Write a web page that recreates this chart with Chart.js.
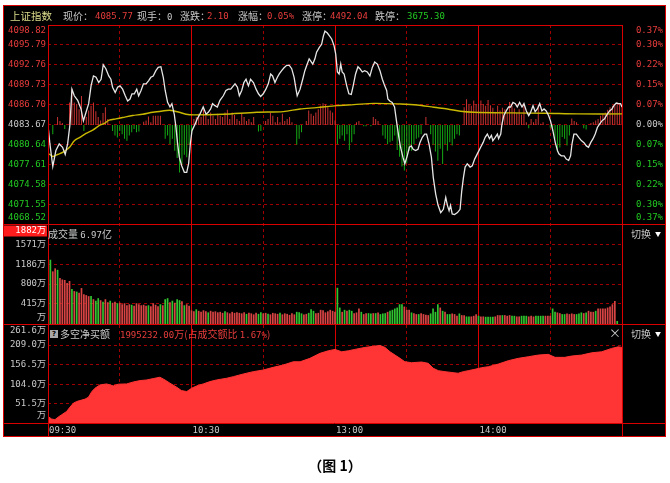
<!DOCTYPE html>
<html>
<head>
<meta charset="utf-8">
<title>上证指数 分时</title>
<script src="https://cdn.jsdelivr.net/npm/chart.js@4.4.1/dist/chart.umd.min.js"></script>
<style>
  html, body { margin: 0; padding: 0; background: #fff; }
  #wrap { position: relative; width: 670px; height: 483px; overflow: hidden; }
  #board { position: absolute; left: 3px; top: 5px; width: 663px; height: 432px; background: #000; }
  #c { position: absolute; left: 0; top: 0; }
  .t { position: absolute; white-space: nowrap; font: 10px/12px "Noto Sans CJK SC", sans-serif; color: #c8c8c8; }
  .n { font-family: "DejaVu Sans Mono", "Noto Sans CJK SC", monospace; font-size: 9px; }
  .red { color: #e83c3c; }
  .grn { color: #22c822; }
  .tri { font-size: 6px; color: #fff; vertical-align: 2px; margin-left: 4px; }
  #q { position: absolute; left: 50px; top: 330px; width: 8px; height: 8px; background: #a8a8a8; color: #000;
       font: bold 7px/8px "DejaVu Sans", sans-serif; text-align: center; }
  #cap { position: absolute; left: 0; width: 670px; top: 456px; text-align: center;
         font: bold 14px/18px "Noto Sans CJK SC", sans-serif; color: #000; }
</style>
</head>
<body>
<div id="wrap">
  <div id="board"></div>
  <canvas id="c" width="670" height="483"></canvas>

  <span class="t" style="left:10px;top:10px;color:#dcdc8c;font-size:10.5px">上证指数</span>
  <span class="t" style="left:63px;top:10px">现价：</span>
  <span class="t n red" style="left:95px;top:10px">4085.77</span>
  <span class="t" style="left:137px;top:10px">现手：<span class="n">0</span></span>
  <span class="t" style="left:180px;top:10px">涨跌：</span>
  <span class="t n red" style="left:207px;top:10px">2.10</span>
  <span class="t" style="left:238px;top:10px">涨幅：</span>
  <span class="t n red" style="left:267px;top:10px">0.05%</span>
  <span class="t" style="left:302px;top:10px">涨停：</span>
  <span class="t n red" style="left:330px;top:10px">4492.04</span>
  <span class="t" style="left:375px;top:10px">跌停：</span>
  <span class="t n grn" style="left:407px;top:10px">3675.30</span>

  <span class="t" style="left:48px;top:228px">成交量 <span class="n">6.97</span>亿</span>
  <span class="t" style="left:631px;top:228px">切换<span class="tri">▼</span></span>

  <span id="q">?</span>
  <span class="t" style="left:60px;top:328px">多空净买额</span>
  <span class="t red" style="left:120px;top:328px"><span class="n">1995232.00</span>万(占成交额比 <span class="n">1.67%</span>)</span>
  <span class="t" style="left:609px;top:327px;font-size:12px">×</span>
  <span class="t" style="left:631px;top:328px">切换<span class="tri">▼</span></span>

  <div id="cap">（图 1）</div>
</div>

<script>
// ---- data ----
const prevClose = 4083.67;
const priceTicks = [4098.82, 4095.79, 4092.76, 4089.73, 4086.70, 4083.67, 4080.64, 4077.61, 4074.58, 4071.55, 4068.52];
const pctLabels = ["0.37%", "0.30%", "0.22%", "0.15%", "0.07%", "0.00%", "0.07%", "0.15%", "0.22%", "0.30%", "0.37%"];
const volTicks = [1882, 1571, 1186, 800, 415, 0];
const volLabels = ["1882万", "1571万", "1186万", "800万", "415万", "万"];
const netTicks = [261.6, 209.0, 156.5, 104.0, 51.5, 0];
const netLabels = ["261.6万", "209.0万", "156.5万", "104.0万", "51.5万", "万"];
const timeTicks = [0, 60, 120, 180];
const timeLabels = ["09:30", "10:30", "13:00", "14:00"];
const gridMinutes = [30, 60, 90, 120, 150, 180, 210];

// [minute, price]
const pricePts = [
  [0,4083.57],[0.8,4080.8],[2,4077.4],[3.3,4079.8],[4.7,4080.8],[6.1,4080.3],[7.2,4079.2],[8.2,4080.8],[9.2,4083.8],[10,4089.1],
  [11,4088.1],[12.4,4087.4],[13.8,4086.1],[14.8,4084.3],[15.9,4085.6],[17,4086.9],[18,4089.6],[19,4091.1],[20.1,4090.9],[21.2,4090.1],
  [22.2,4090.6],[23.1,4092.8],[24.2,4092.2],[25.4,4091.1],[26.3,4090.6],[27,4089.4],[28.1,4088.6],[29.1,4089.4],[30.1,4089.6],[31.2,4089.1],
  [32.3,4088.1],[33.3,4087.3],[34.3,4087.6],[35.1,4088.4],[36.1,4088.4],[37.1,4089.1],[37.9,4088.1],[38.9,4088.9],[39.9,4089.9],[41,4089.9],
  [42.1,4090.4],[43,4090.9],[44,4091.1],[45.1,4091.9],[46.1,4092.4],[47.2,4092.5],[48.2,4090.9],[49,4088.9],[50,4087.1],[51,4086.4],
  [51.8,4086.9],[52.8,4085.3],[53.5,4083.3],[54.2,4080.8],[54.9,4078.8],[55.9,4077.5],[57,4076.5],[58,4076.5],[58.8,4077.8],[59.5,4080.8],
  [60.2,4082.8],[61.5,4083.8],[62.4,4084.6],[63.5,4085.3],[64.9,4086.4],[66.1,4085.3],[67,4085.6],[68,4086.1],[68.8,4086.9],[69.8,4086.6],
  [70.8,4086.4],[71.9,4087.4],[73.3,4088.1],[74.4,4088.9],[75.4,4089.1],[76.4,4089.1],[77.5,4089.6],[78.2,4089.9],[79.2,4089.4],[80,4088.1],
  [81,4088.9],[81.9,4090.1],[82.8,4090.6],[83.8,4089.6],[84.7,4090.6],[85.9,4090.1],[87,4089.1],[88,4088.4],[88.9,4088.0],[90,4088.4],
  [91.1,4089.1],[92.1,4089.9],[93.1,4091.4],[93.9,4091.1],[94.9,4090.1],[95.9,4090.9],[96.7,4091.4],[97.7,4091.9],[98.6,4092.3],[99.8,4092.7],
  [100.9,4092.7],[101.9,4092.2],[102.9,4090.9],[103.7,4089.1],[104.2,4088.1],[105.4,4089.1],[106.5,4090.6],[107.4,4091.9],[108.4,4092.9],[109.2,4093.7],
  [109.8,4093.4],[110.7,4092.9],[111.6,4093.7],[112.3,4094.7],[113.4,4095.4],[114.4,4095.9],[115.1,4097.1],[115.8,4097.9],[116.8,4097.6],[117.6,4097.2],
  [118.6,4096.7],[119.6,4095.7],[120.3,4094.4],[121,4091.7],[121.7,4091.4],[122.4,4092.9],[123,4091.7],[123.8,4091.4],[124.9,4089.6],[125.8,4088.4],
  [126.8,4088.3],[127.6,4089.6],[128.6,4091.4],[129.6,4092.5],[130.4,4092.2],[131.4,4091.7],[132.4,4091.9],[133.5,4091.7],[134.6,4091.1],[135.6,4092.4],
  [136.6,4093.2],[137.7,4092.9],[138.8,4091.9],[139.8,4090.6],[140.8,4089.6],[141.6,4088.9],[142.1,4087.6],[142.9,4087.3],[143.9,4087.1],[144.9,4086.4],
  [145.7,4084.3],[146.7,4081.8],[147.4,4080.3],[148.4,4078.8],[149.2,4077.8],[150.2,4079.0],[151.1,4080.3],[151.9,4080.5],[152.7,4080.0],[153.7,4079.8],
  [154.7,4080.0],[155.5,4081.0],[156.5,4081.8],[157.5,4082.3],[158.3,4082.3],[159.3,4080.8],[160.3,4078.8],[161.1,4075.7],[162.1,4073.2],[163.1,4071.5],
  [164.2,4070.4],[165.3,4070.9],[166.3,4072.7],[167,4071.5],[167.7,4070.7],[168.3,4071.5],[169,4070.2],[170,4070.1],[171.2,4070.4],[172.3,4070.9],
  [173,4073.7],[173.7,4075.7],[174.4,4077.3],[175.3,4077.8],[176.5,4077.3],[177.4,4077.5],[178.4,4078.5],[179.5,4079.3],[180.9,4080.3],[181.9,4081.0],
  [182.8,4081.8],[183.7,4082.3],[184.6,4081.6],[185.4,4082.1],[186,4081.3],[187,4081.8],[187.9,4082.3],[188.4,4081.6],[189.3,4082.3],[189.8,4083.8],
  [190.6,4085.1],[191.6,4085.8],[192.6,4086.4],[193.4,4086.4],[194.4,4087.1],[195.4,4086.9],[196.2,4086.4],[197.2,4087.1],[198.2,4086.4],[199,4086.9],
  [200,4085.8],[201,4085.1],[201.8,4085.6],[202.8,4086.6],[203.7,4085.7],[204.6,4086.1],[205.6,4086.9],[206.5,4085.8],[207.4,4086.1],[208.3,4085.8],
  [209.3,4085.1],[210.1,4084.3],[211.1,4082.8],[212.1,4081.0],[213,4079.8],[213.6,4079.3],[214.6,4079.0],[215.8,4079.0],[216.7,4078.5],[217.7,4078.3],
  [218.5,4079.0],[219.1,4080.8],[219.9,4082.3],[220.9,4082.3],[221.9,4081.8],[223,4081.3],[224.1,4081.0],[225.1,4080.5],[226,4080.3],[226.9,4081.0],
  [227.9,4081.6],[228.8,4082.3],[229.7,4083.3],[230.6,4083.8],[231.6,4084.3],[232.7,4084.6],[233.8,4085.3],[234.8,4085.8],[235.8,4086.1],[236.6,4086.6],
  [237.6,4087.0],[238.6,4086.9],[239.4,4086.9],[240,4086.4]
];

// [minute, average price]
const avgPts = [
  [0.5,4079.3],[2,4078.9],[4,4079.2],[6.5,4079.6],[9,4080.3],[11,4081.3],[13.3,4081.8],[15.9,4082.4],[18.7,4082.9],[21.5,4083.6],
  [23.5,4083.9],[25.6,4084.4],[28.4,4084.6],[31.2,4084.8],[35.4,4085.1],[39.6,4085.3],[43.8,4085.6],[47.9,4085.8],[50.7,4085.9],[52.8,4085.8],
  [54.9,4085.6],[57.7,4085.3],[61,4085.2],[73.3,4085.3],[87.3,4085.6],[98.4,4085.7],[105.4,4086.1],[112.3,4086.3],[120.7,4086.6],[127.9,4086.75],
  [136.3,4086.95],[147.4,4086.85],[154.4,4086.7],[161.4,4086.35],[167,4086.1],[172.5,4085.75],[178.1,4085.6],[193.7,4085.5],[207.7,4085.45],[221.6,4085.35],
  [240,4085.35]
];

// red/green strength bars, one per minute (index points above/below prev close)
const strength = [
  0,0,-1.4,0,1.2,0.6,0.3,-0.6,0,3.4,
  5.5,3.4,3.2,2.4,4.4,-0.9,1.2,2.2,2.9,3.4,
  2.1,1.2,0.7,1.8,2.7,0.9,0,-0.9,-1.6,-1.9,
  -0.9,-1.4,-2.1,-2.4,-1.6,-1.1,-0.6,-1.1,-1.0,0,
  0.5,0.7,1.3,0.4,1.4,1.4,1.4,1.4,0,-2.1,
  -1.6,-2.9,-2.1,-3.9,-5.0,-7.2,-6.0,-4.5,-4.9,-3.0,
  -1.4,0.9,1.2,1.7,1.2,2.4,1.4,0.9,1.9,1.4,
  0.9,1.7,1.4,1.2,1.9,2.3,0.9,1.9,1.5,0.9,
  0.6,1.7,1.2,0.6,0.9,0.4,1.2,0,-1.0,-0.9,
  0,0.6,0.9,1.9,1.4,0.4,1.2,0.4,1.7,0.6,
  0.9,1.2,0.4,0,-3.0,-2.1,-1.1,0,0.6,2.2,
  1.7,1.4,1.9,2.4,2.9,3.3,3.2,2.7,2.2,1.9,
  0.7,-2.9,-2.1,-1.6,-2.4,-1.4,-3.8,-2.6,-1.4,0.4,
  0.6,0,-0.2,-0.2,0,-0.2,1.2,0.9,0.6,0,
  -1.6,-2.1,-2.9,-2.6,-2.4,-1.6,-3.8,-4.8,-6.3,-6.9,
  -5.8,-3.9,-3.9,-2.9,-2.1,-1.9,-1.4,0,1.2,0,
  -1.4,-3.0,-4.0,-5.4,-3.6,-5.9,-2.9,-3.9,-2.6,-3.1,
  -2.1,-1.4,-1.6,0,2.7,3.9,3.1,2.9,3.7,3.2,
  3.2,3.7,3.2,2.9,3.8,3.0,2.6,2.0,2.9,2.2,
  2.6,2.4,1.9,3.5,2.9,2.5,1.8,2.4,1.6,3.1,
  0.4,-0.5,0.9,0.4,0.9,3.1,0.2,0.4,0,0,
  -0.4,-0.9,-2.1,-4.1,-3.4,-1.8,-2.1,-3.1,-1.6,1.0,
  0.6,0.4,0,0,-0.5,-0.7,0,0.3,0.4,0.7,
  0.9,1.4,1.7,1.9,2.3,2.7,2.9,3.1,3.4,3.2,
  2.9
];

// volume per minute (万手) and up(1)/down(0) flag
const volume = [
  1670,1280,1050,1110,1080,920,890,880,820,860,
  700,660,650,625,720,600,580,560,565,500,
  470,520,480,450,500,440,470,430,450,420,
  430,400,420,380,400,390,370,420,400,380,
  390,370,380,360,420,390,360,400,380,500,
  520,440,470,430,500,480,460,380,400,370,
  280,260,300,270,250,280,260,240,270,250,
  260,240,250,230,260,240,220,250,230,240,
  230,220,240,210,230,220,200,230,210,240,
  220,230,210,200,230,220,210,230,200,220,
  210,190,220,200,250,240,220,200,210,230,
  300,270,220,230,290,280,240,260,290,270,
  250,
  726,335,250,290,270,290,270,224,238,316,
  250,205,224,224,218,224,224,238,205,218,
  224,250,270,290,316,335,400,400,355,290,
  290,238,224,205,205,224,205,192,185,218,
  316,250,400,335,270,250,205,205,218,205,
  172,218,185,185,159,159,159,172,205,172,
  159,159,153,153,153,153,159,185,185,185,
  185,172,185,172,172,159,159,172,172,172,
  159,172,159,172,172,172,172,172,172,172,
  316,250,238,224,205,205,218,205,218,205,
  205,218,238,224,238,270,250,250,270,316,
  316,316,316,335,355,400,465,70,0,0
];
const volUp = [
  0,0,1,1,0,1,1,1,1,1,
  0,1,0,1,1,1,1,1,0,1,
  0,0,1,0,1,1,0,1,1,0,
  1,1,1,1,1,0,1,1,1,1,
  1,1,0,1,1,1,1,0,1,0,
  0,1,0,1,0,0,1,0,1,1,
  1,1,0,1,1,1,1,0,1,1,
  1,1,1,1,0,1,1,1,1,1,
  1,1,1,0,1,1,1,1,0,0,
  1,1,0,1,1,1,1,0,1,1,
  1,1,1,1,0,0,0,1,1,0,
  0,0,1,1,1,1,1,1,1,1,
  1,
  0,0,1,0,1,0,0,1,1,1,
  0,1,1,0,0,1,0,1,0,0,
  0,1,0,0,0,0,0,0,1,1,
  1,0,1,1,0,1,1,1,1,0,
  0,0,0,1,0,1,0,0,1,1,
  1,0,1,1,0,0,1,1,1,0,
  1,1,0,0,0,0,1,1,1,0,
  1,1,1,0,0,1,1,0,0,0,
  1,1,1,0,0,0,0,1,1,1,
  0,0,1,1,0,0,1,1,1,1,
  0,0,0,1,0,1,1,1,0,1,
  1,1,1,1,1,1,1,0,1,1
];

// [minute, 多空净买额 万]
const netPts = [
  [0,17.6],[1.5,10.7],[2.9,8.8],[4.3,16],[5.7,22],[7.8,31],[9.2,42.6],[10.6,53],[12,57.6],[15.5,64],
  [16.9,69],[18.3,84],[19.6,93],[21.7,102],[24.5,104.7],[27.3,99.4],[29.4,104],[32.9,104.7],[35.7,110],[38.5,113.6],
  [41.3,115.4],[44,119],[46.8,122.6],[48.9,115.4],[51,106.6],[53.8,96],[55.8,86.9],[58,84.2],[60.1,93.3],[62.2,99.4],
  [64.9,104.7],[67.7,110.9],[70.5,115.4],[74.7,119.9],[77.5,124.2],[81.7,131.4],[85.8,137.5],[90,142],[94.2,149.2],[98.4,155.4],
  [102.6,164.2],[105.4,164],[109.5,173.2],[113.7,186.6],[117.2,193.5],[120,197.2],[122.8,190.8],[125.6,193.5],[128.3,197.2],[132.5,202.5],
  [136.7,206],[138.8,207.9],[140.9,202.5],[143,190.8],[145.1,182],[147.2,173.2],[149.2,164.2],[152,161.5],[156.2,163.4],[159,159.9],
  [161.1,146.6],[163.2,140.2],[166,137.5],[169.4,134.9],[171.5,133.3],[173.6,137.5],[175.7,140.2],[178.5,143.9],[181.3,148.2],[184.1,150.8],
  [188.3,157.9],[192.4,166.8],[196.6,173.2],[200.8,177.5],[205,182],[209.2,183.9],[212,175.9],[216.1,175.9],[218.9,179.4],[223.1,182],
  [227.3,188.1],[231.5,190.8],[235.7,199.9],[238.4,204.1],[240,202.5]
];

// ---- styles ----
const SOLID = "#d80000";
const DASH = "#a00000";
const TXT_RED = "#e83c3c";
const TXT_GRN = "#22c822";
const TXT_GRAY = "#c8c8c8";
const NUM_FONT = '9px "DejaVu Sans Mono", "Noto Sans CJK SC", monospace';

// chart area spans all three panels; each y axis is placed by two anchor values
const AREA = { top: 25, bottom: 423 };
function axisRange(v1, p1, v2, p2) {
  const k = (p2 - p1) / (v1 - v2);
  return { min: v1 - (AREA.bottom - p1) / k, max: v1 + (p1 - AREA.top) / k };
}
const priceRange = axisRange(priceTicks[0], 25, priceTicks[priceTicks.length - 1], 225);
const volRange = axisRange(1571, 245, 0, 324.5);
const netRange = axisRange(209, 345, 0, 423);

const boardPlugin = {
  id: "board",
  beforeDatasetsDraw(chart) {
    const { ctx, chartArea: a, scales: s } = chart;
    ctx.save();
    ctx.lineWidth = 1;
    ctx.strokeStyle = DASH;
    ctx.setLineDash([3, 3]);
    const h = y => {
      const yy = Math.floor(y) + 0.5;
      ctx.beginPath(); ctx.moveTo(a.left, yy); ctx.lineTo(a.right, yy); ctx.stroke();
    };
    priceTicks.slice(1, -1).forEach(v => h(s.yPrice.getPixelForValue(v)));
    volTicks.slice(1, -1).forEach(v => h(s.yVol.getPixelForValue(v)));
    netTicks.slice(1, -1).forEach(v => h(s.yNet.getPixelForValue(v)));
    gridMinutes.forEach(m => {
      const x = Math.floor(s.x.getPixelForValue(m)) + 0.5;
      const solid = m % 60 === 0;
      ctx.setLineDash(solid ? [] : [3, 3]);
      ctx.strokeStyle = solid ? SOLID : DASH;
      ctx.beginPath(); ctx.moveTo(x, a.top); ctx.lineTo(x, a.bottom); ctx.stroke();
    });
    ctx.restore();
  },
  afterDatasetsDraw(chart) {
    const { ctx, chartArea: a, scales: s } = chart;
    const yPriceBot = s.yPrice.getPixelForValue(priceTicks[priceTicks.length - 1]);
    const yVolBot = s.yVol.getPixelForValue(0);
    const yNetBot = s.yNet.getPixelForValue(0);
    const L = 3.5, R = 665.5, T = 5.5, B = 436.5;

    ctx.save();
    ctx.lineWidth = 1;
    ctx.strokeStyle = SOLID;
    const line = (x1, y1, x2, y2) => { ctx.beginPath(); ctx.moveTo(x1, y1); ctx.lineTo(x2, y2); ctx.stroke(); };
    ctx.strokeRect(L, T, R - L, B - T);
    const xl = Math.floor(a.left) + 0.5, xr = Math.floor(a.right) + 0.5;
    line(xl, a.top + 0.5, xr, a.top + 0.5);
    [yPriceBot, yVolBot, yNetBot].forEach(y => line(L, Math.floor(y) + 0.5, R, Math.floor(y) + 0.5));
    line(xl, a.top, xl, B);
    line(xr, a.top, xr, B);

    ctx.font = NUM_FONT;
    ctx.textBaseline = "middle";
    const clamp = (y, t, b) => Math.min(Math.max(y, t + 6), b - 7);

    // price + percent
    priceTicks.forEach((v, i) => {
      const y = clamp(s.yPrice.getPixelForValue(v), a.top, yPriceBot);
      ctx.fillStyle = v > prevClose ? TXT_RED : (v < prevClose ? TXT_GRN : TXT_GRAY);
      ctx.textAlign = "right";
      ctx.fillText(v.toFixed(2), 46, y);
      ctx.fillText(pctLabels[i], 663, y);
    });

    // volume
    volTicks.forEach((v, i) => {
      const y = clamp(s.yVol.getPixelForValue(v), yPriceBot, yVolBot);
      ctx.textAlign = "right";
      if (i === 0) {
        ctx.fillStyle = "#ff1c1c";
        ctx.fillRect(4, y - 5.5, 43, 11);
        ctx.fillStyle = "#ffffff";
      } else {
        ctx.fillStyle = TXT_GRAY;
      }
      ctx.fillText(volLabels[i], 46, y);
    });

    // net buy
    netTicks.forEach((v, i) => {
      const y = clamp(s.yNet.getPixelForValue(v), yVolBot, yNetBot);
      ctx.fillStyle = TXT_GRAY;
      ctx.textAlign = "right";
      ctx.fillText(netLabels[i], 46, y);
    });

    // time axis
    ctx.textAlign = "left";
    ctx.fillStyle = TXT_GRAY;
    timeTicks.forEach((m, i) => ctx.fillText(timeLabels[i], s.x.getPixelForValue(m) + 1, 430.5));
    ctx.restore();
  }
};

new Chart(document.getElementById("c"), {
  type: "bar",
  data: {
    datasets: [
      {
        type: "line", label: "价格", yAxisID: "yPrice", order: 0,
        data: pricePts.map(([x, y]) => ({ x, y })),
        borderColor: "#e6e6e6", borderWidth: 1.3, pointRadius: 0, tension: 0
      },
      {
        type: "line", label: "均价", yAxisID: "yPrice", order: 1,
        data: avgPts.map(([x, y]) => ({ x, y })),
        borderColor: "#c8b800", borderWidth: 1.4, pointRadius: 0, tension: 0.3
      },
      {
        type: "bar", label: "红绿柱", yAxisID: "yPrice", order: 2, grouped: false,
        data: strength.map((v, i) => ({ x: i, y: [prevClose, prevClose + v] })),
        backgroundColor: strength.map(v => v >= 0 ? "#c83232" : "#14aa14"),
        barThickness: 1, inflateAmount: 0
      },
      {
        type: "bar", label: "成交量", yAxisID: "yVol", order: 3, grouped: false,
        data: volume.map((v, i) => ({ x: i, y: v })),
        backgroundColor: volUp.map(u => u ? "#d84444" : "#30c430"),
        barThickness: 1.7, inflateAmount: 0
      },
      {
        type: "line", label: "多空净买额", yAxisID: "yNet", order: 4,
        data: netPts.map(([x, y]) => ({ x, y })),
        borderColor: "#ff3535", backgroundColor: "#ff3535", borderWidth: 1,
        fill: "origin", pointRadius: 0, tension: 0
      }
    ]
  },
  options: {
    responsive: false,
    animation: false,
    devicePixelRatio: 1,
    events: [],
    layout: { padding: { left: 48, right: 48, top: AREA.top, bottom: 483 - AREA.bottom } },
    plugins: { legend: { display: false }, tooltip: { enabled: false } },
    scales: {
      x: { type: "linear", min: 0, max: 240, offset: false, display: false },
      yPrice: { type: "linear", position: "left", min: priceRange.min, max: priceRange.max, display: false },
      yVol: { type: "linear", position: "left", min: volRange.min, max: volRange.max, display: false },
      yNet: { type: "linear", position: "left", min: netRange.min, max: netRange.max, display: false }
    }
  },
  plugins: [boardPlugin]
});
</script>
</body>
</html>
